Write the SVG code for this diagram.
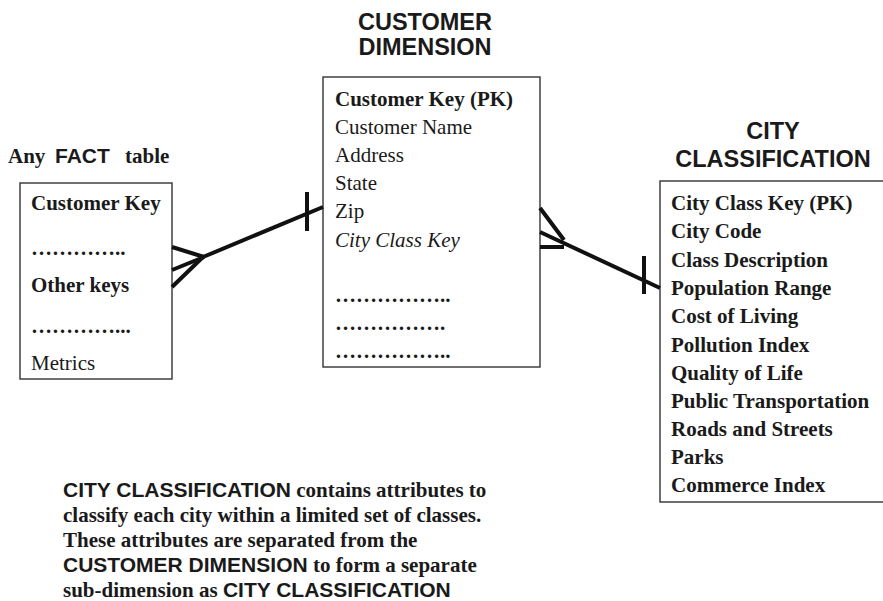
<svg xmlns="http://www.w3.org/2000/svg" width="883" height="601" viewBox="0 0 883 601">
<style>
.box{fill:#fff;stroke:#333;stroke-width:1.4}
.t{font-family:"Liberation Serif","Times New Roman",serif;font-size:21px;fill:#1a1a1a}
.b{font-weight:bold}
.i{font-style:italic}
.h{font-family:"Liberation Sans",Arial,sans-serif;font-weight:bold;fill:#1a1a1a}
.title{font-size:23.5px;text-anchor:middle}
.c{fill:none;stroke:#111;stroke-width:4;stroke-linecap:butt}
</style>
<rect width="883" height="601" fill="#fff"/>

<g id="fact-table">
  <text class="t b" y="163" font-size="23"><tspan x="8">Any</tspan><tspan x="55" class="h">FACT</tspan><tspan x="125">table</tspan></text>
  <rect class="box" x="20" y="183" width="152" height="196"/>
  <text class="t b" x="31" y="210">Customer Key</text>
  <text class="t b" x="31" y="255">…………..</text>
  <text class="t b" x="31" y="292">Other keys</text>
  <text class="t b" x="31" y="333">…………...</text>
  <text class="t" x="31" y="370">Metrics</text>
</g>

<g id="customer-dimension">
  <text class="h title" x="425" y="30">CUSTOMER</text>
  <text class="h title" x="425" y="55">DIMENSION</text>
  <rect class="box" x="323" y="77" width="217" height="290"/>
  <text class="t b" x="335" y="106">Customer Key (PK)</text>
  <text class="t" x="335" y="134">Customer Name</text>
  <text class="t" x="335" y="162">Address</text>
  <text class="t" x="335" y="190">State</text>
  <text class="t" x="335" y="218">Zip</text>
  <text class="t i" x="335" y="247">City Class Key</text>
  <text class="t b" x="335" y="302">……………..</text>
  <text class="t b" x="335" y="330">…………….</text>
  <text class="t b" x="335" y="358">……………..</text>
</g>

<g id="city-classification">
  <text class="h title" x="773" y="139">CITY</text>
  <text class="h title" x="773" y="167">CLASSIFICATION</text>
  <rect class="box" x="660" y="181" width="230" height="321"/>
  <text class="t b" x="671" y="210">City Class Key (PK)</text>
  <text class="t b" x="671" y="238">City Code</text>
  <text class="t b" x="671" y="267">Class Description</text>
  <text class="t b" x="671" y="295">Population Range</text>
  <text class="t b" x="671" y="323">Cost of Living</text>
  <text class="t b" x="671" y="352">Pollution Index</text>
  <text class="t b" x="671" y="380">Quality of Life</text>
  <text class="t b" x="671" y="408">Public Transportation</text>
  <text class="t b" x="671" y="436">Roads and Streets</text>
  <text class="t b" x="671" y="464">Parks</text>
  <text class="t b" x="671" y="492">Commerce Index</text>
</g>

<g id="connectors">
  <!-- fact (many) to customer (one) -->
  <line class="c" x1="203" y1="257" x2="323" y2="207"/>
  <line class="c" x1="172" y1="247" x2="204" y2="257"/>
  <line class="c" x1="172" y1="270" x2="204" y2="257"/>
  <line class="c" x1="172" y1="287" x2="204" y2="256"/>
  <line class="c" x1="307" y1="192" x2="307" y2="231"/>
  <!-- customer (many) to city (one) -->
  <line class="c" x1="540" y1="232" x2="660" y2="288"/>
  <line class="c" x1="540" y1="208" x2="564" y2="240"/>
  <line class="c" x1="540" y1="247" x2="564" y2="247"/>
  <line class="c" x1="644" y1="256" x2="644" y2="294"/>
</g>

<g id="note">
  <text class="t b" x="63" y="497"><tspan class="h">CITY CLASSIFICATION</tspan> contains attributes to</text>
  <text class="t b" x="63" y="522">classify each city within a limited set of classes.</text>
  <text class="t b" x="63" y="547">These attributes are separated from the</text>
  <text class="t b" x="63" y="572"><tspan class="h">CUSTOMER DIMENSION</tspan> to form a separate</text>
  <text class="t b" x="63" y="597">sub-dimension as <tspan class="h">CITY CLASSIFICATION</tspan></text>
</g>
</svg>
